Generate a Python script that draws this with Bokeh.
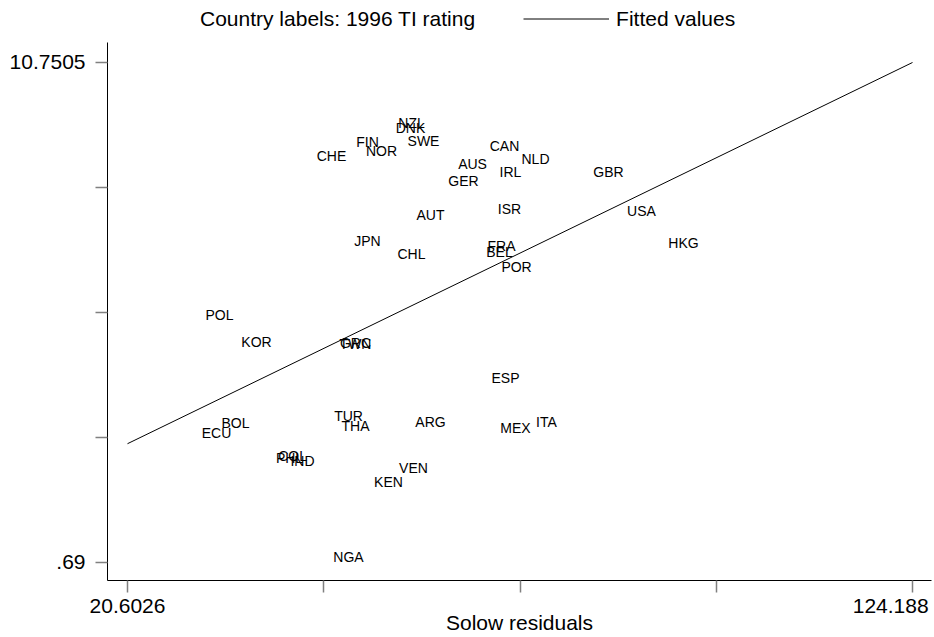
from bokeh.plotting import figure
from bokeh.models import FixedTicker, Legend, LegendItem, ColumnDataSource, Range1d
from bokeh.core.properties import value
from bokeh.embed import file_html
from bokeh.resources import INLINE

# ---- data ----
countries = ["NZL", "DNK", "SWE", "FIN", "NOR", "CHE", "CAN", "NLD", "AUS", "IRL",
             "GER", "GBR", "AUT", "ISR", "USA", "JPN", "CHL", "FRA", "BEL", "POR",
             "HKG", "POL", "KOR", "GRC", "TWN", "ESP", "TUR", "THA", "ARG", "MEX",
             "ITA", "BOL", "ECU", "COL", "PHL", "IND", "VEN", "KEN", "NGA"]
solow_resid = [58.08, 57.95, 59.66, 52.27, 54.12, 47.52, 70.35, 74.44, 66.13, 71.14,
               64.94, 84.07, 60.59, 71.01, 88.43, 52.27, 58.08, 69.96, 69.69, 71.94,
               93.97, 32.74, 37.63, 50.69, 50.69, 70.48, 49.77, 50.69, 60.59, 71.80,
               75.89, 34.85, 32.35, 42.38, 41.98, 43.70, 58.34, 55.04, 49.77]
ti_rating = [9.43, 9.33, 9.08, 9.05, 8.87, 8.76, 8.96, 8.71, 8.60, 8.45,
             8.27, 8.44, 7.59, 7.71, 7.66, 7.05, 6.80, 6.96, 6.84, 6.53,
             7.01, 5.57, 5.02, 5.01, 4.98, 4.31, 3.54, 3.33, 3.41, 3.30,
             3.42, 3.40, 3.19, 2.73, 2.69, 2.63, 2.50, 2.21, 0.69]
fit_x = [20.6026, 124.188]
fit_y = [3.08, 10.7505]
x_major = [20.6026, 124.188]
x_minor = [46.4986, 72.3953, 98.2917]
y_major = [0.69, 10.7505]
y_minor = [3.20513, 5.72025, 8.23538]
x_tick_labels = ["20.6026", "124.188"]
y_tick_labels = [".69", "10.7505"]
x_title = "Solow residuals"
legend_labels = ["Country labels: 1996 TI rating", "Fitted values"]

FONT = "Liberation Sans"
Y0, Y1 = 0.3278, 11.998          # frame reaches the top of the canvas (legend lives inside it)

p = figure(width=934, height=637, output_backend="svg", toolbar_location=None,
           x_range=Range1d(17.9635, 126.695), y_range=Range1d(Y0, Y1),
           min_border_left=107, min_border_right=3, min_border_top=0, min_border_bottom=57)
p.outline_line_color = None
p.xgrid.visible = False
p.ygrid.visible = False
p.background_fill_color = "white"
p.border_fill_color = "white"

src = ColumnDataSource(dict(x=solow_resid, y=ti_rating, label=countries))
txt = p.text(x="x", y="y", text="label", source=src, text_font=value(FONT),
             text_font_size=value("14px"), text_align="center", text_baseline="middle",
             text_color="black", y_offset=-5)
fit = p.line(fit_x, fit_y, line_color="black", line_width=1)

for ax, major, minor in ((p.xaxis[0], x_major, x_minor), (p.yaxis[0], y_major, y_minor)):
    ax.ticker = FixedTicker(ticks=major, minor_ticks=minor)
    ax.axis_line_color = "black"
    ax.axis_line_width = 1
    ax.major_tick_line_color = "#808080"
    ax.minor_tick_line_color = "#808080"
    ax.major_tick_line_width = 1.5
    ax.minor_tick_line_width = 1.5
    ax.major_tick_out = 12
    ax.major_tick_in = 0
    ax.minor_tick_out = 12
    ax.minor_tick_in = 0
    ax.major_label_text_font = FONT
    ax.major_label_text_font_size = "21px"
    ax.major_label_text_color = "black"

# y axis line stops below the legend strip, like the original plot region
p.yaxis[0].bounds = (Y0, 11.153)

# the right-hand x label sits left of its tick in the original: pad it with a no-break space
p.xaxis[0].major_label_standoff = 1
p.xaxis[0].major_label_overrides = {x_major[0]: x_tick_labels[0],
                                    x_major[1]: x_tick_labels[1] + "\u00a0"}
p.xaxis[0].axis_label = x_title
p.xaxis[0].axis_label_text_font = FONT
p.xaxis[0].axis_label_text_font_size = "21px"
p.xaxis[0].axis_label_text_font_style = "normal"
p.xaxis[0].axis_label_text_color = "black"
p.xaxis[0].axis_label_standoff = -9
p.yaxis[0].major_label_standoff = 10
p.yaxis[0].major_label_overrides = {y_major[0]: y_tick_labels[0], y_major[1]: y_tick_labels[1]}

legend = Legend(items=[LegendItem(label=legend_labels[0], renderers=[txt]),
                       LegendItem(label=legend_labels[1], renderers=[fit])],
                location=(-6, 543), orientation="horizontal",
                glyph_width=86, glyph_height=25, label_height=25, label_standoff=7,
                spacing=48, padding=6, margin=0, border_line_alpha=0,
                background_fill_alpha=0, label_text_font=FONT,
                label_text_font_size="21px", label_text_color="black")
p.add_layout(legend)

open("out.html", "w").write(file_html(p, INLINE))
